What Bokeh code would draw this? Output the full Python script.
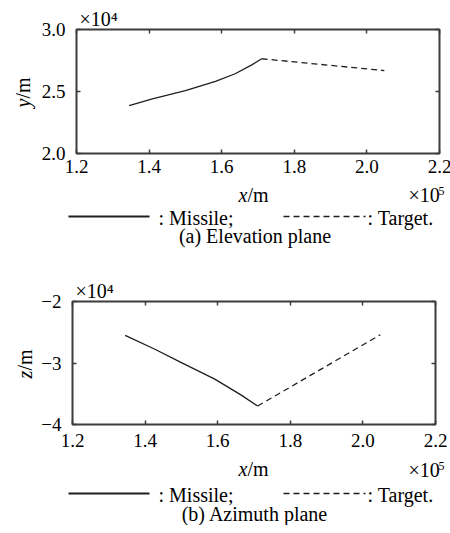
import math
from bokeh.plotting import figure
from bokeh.layouts import column, row
from bokeh.models import Range1d, FixedTicker, LinearAxis, Label, Arrow, Title
from bokeh.embed import file_html
from bokeh.resources import INLINE

# ---------------- data (metres) ----------------
x_ticks = [120000, 140000, 160000, 180000, 200000, 220000]
x_tick_labels = ["1.2", "1.4", "1.6", "1.8", "2.0", "2.2"]

a_y_ticks = [20000, 25000, 30000]
a_y_tick_labels = ["2.0", "2.5", "3.0"]
b_y_ticks = [-40000, -30000, -20000]
b_y_tick_labels = ["\u22124", "\u22123", "\u22122"]

# (a) Elevation plane
a_missile_x = [134500, 140900, 150000, 158300, 163700, 168300, 171000]
a_missile_y = [23870, 24410, 25080, 25810, 26430, 27150, 27640]
a_target_x = [171000, 204800]
a_target_y = [27640, 26690]

# (b) Azimuth plane
b_missile_x = [134500, 142700, 150000, 159200, 166500, 171000]
b_missile_z = [-25510, -27770, -29930, -32630, -35220, -37000]
b_target_x = [171000, 204800]
b_target_z = [-37000, -25400]

FONT = "Liberation Serif"
INK = "#000000"
FRAME = "#3c3c3c"
LINE = "#1e1e1e"
FS = "20px"
TICK_FS = "19px"
W = 450
LEFT_W = 38
FRAME_W = 363


def style_axis(ax, ticks, labels, standoff, show=True):
    ax.ticker = FixedTicker(ticks=ticks)
    ax.major_label_overrides = {t: l for t, l in zip(ticks, labels)}
    ax.axis_line_color = None
    ax.major_tick_in = 4
    ax.major_tick_out = 0
    ax.major_tick_line_color = FRAME
    ax.major_tick_line_width = 1.5
    ax.minor_tick_line_color = None
    ax.major_label_text_font = FONT
    ax.major_label_text_font_size = TICK_FS
    ax.major_label_text_color = INK if show else None
    ax.major_label_standoff = standoff if show else 0


def blank(w, h, top=0, bot=0):
    f = figure(frame_width=w, frame_height=h, min_border_left=0, min_border_right=0,
               min_border_top=top, min_border_bottom=bot, x_axis_type=None, y_axis_type=None,
               x_range=Range1d(0, 1), y_range=Range1d(0, 1),
               output_backend="svg", toolbar_location=None)
    f.outline_line_color = None
    f.grid.visible = False
    f.background_fill_color = "white"
    f.border_fill_color = "white"
    return f


def txt(p, text, x, y, size=FS, style="normal", align="left", angle=0.0):
    p.add_layout(Label(x=x, y=y, x_units="screen", y_units="screen", text=text,
                       text_font=FONT, text_font_size=size, text_font_style=style,
                       text_color=INK, text_align=align, text_baseline="middle",
                       angle=angle))


def seg(p, x0, x1, y, dash="solid", width=2.0):
    p.add_layout(Arrow(start=None, end=None, x_start=x0, y_start=y, x_end=x1, y_end=y,
                       start_units="screen", end_units="screen",
                       line_color=LINE, line_width=width, line_dash=dash))


def panel(mx, my, tx, ty, yr, yticks, ylabels, letter, caption, g):
    fh = g["fh"]
    p = figure(frame_width=FRAME_W, frame_height=fh, min_border_left=72 - LEFT_W,
               min_border_right=W - 72 - FRAME_W, min_border_top=g["top"],
               min_border_bottom=g["bot"],
               x_range=Range1d(120000, 220000), y_range=Range1d(*yr),
               output_backend="svg", toolbar_location=None)
    p.grid.visible = False
    p.outline_line_color = FRAME
    p.outline_line_width = 2
    p.background_fill_color = "white"
    p.border_fill_color = "white"
    style_axis(p.xaxis[0], x_ticks, x_tick_labels, g["xstd"])
    style_axis(p.yaxis[0], yticks, ylabels, 11)
    top_ax = LinearAxis()
    right_ax = LinearAxis()
    style_axis(top_ax, x_ticks, x_tick_labels, 0, show=False)
    style_axis(right_ax, yticks, ylabels, 0, show=False)
    p.add_layout(top_ax, "above")
    p.add_layout(right_ax, "right")
    # multiplier of the y axis, above the top-left corner
    p.add_layout(Title(text="\u00d710\u2074", align="left", offset=3, standoff=0,
                       text_font=FONT, text_font_size=FS, text_font_style="normal",
                       text_color=INK), "above")
    p.line(mx, my, line_color=LINE, line_width=1.3)
    p.line(tx, ty, line_color=LINE, line_width=1.3, line_dash="6 4")

    # left strip with the rotated axis label; its frame lines up with the plot frame
    left = blank(LEFT_W, fh, top=g["top"], bot=g["bot"])
    txt(left, letter, g["yx"], g["ys1"], style="italic", align="center", angle=math.pi / 2)
    txt(left, "/m", g["yx"], g["ys2"], align="center", angle=math.pi / 2)

    # footer: x label, multiplier, legend, caption
    foot = blank(W, g["foot"])
    txt(foot, "x", 238, g["xl"], style="italic")
    txt(foot, "/m", 247, g["xl"])
    txt(foot, "\u00d710", 408, g["xl"] + g["e5"])
    txt(foot, "5", 438, g["xl"] + g["e5"] + 4, size="12px")
    seg(foot, 68, 149, g["leg"], width=2.0)
    txt(foot, ": Missile;", 158, g["leg"] - 1)
    seg(foot, 283, 365, g["leg"], dash="6 4", width=1.6)
    txt(foot, ": Target.", 367, g["leg"] - 1)
    txt(foot, caption, 254.5, g["cap"], align="center")

    return column(row(left, p, spacing=0), foot, spacing=0)


pa = panel(a_missile_x, a_missile_y, a_target_x, a_target_y, (20000, 30000),
           a_y_ticks, a_y_tick_labels, "y", "(a) Elevation plane",
           dict(top=29, fh=124, bot=29, xstd=6, yx=22.5, ys1=50.5, ys2=65.5,
                foot=84, xl=72, e5=0, leg=50, cap=31))
pb = panel(b_missile_x, b_missile_z, b_target_x, b_target_z, (-40000, -20000),
           b_y_ticks, b_y_tick_labels, "z", "(b) Azimuth plane",
           dict(top=35, fh=123, bot=32, xstd=9, yx=24, ys1=50, ys2=64.5,
                foot=69, xl=57, e5=-1, leg=32, cap=12))

layout = column(pa, pb, spacing=0)
open("out.html", "w").write(file_html(layout, INLINE))
